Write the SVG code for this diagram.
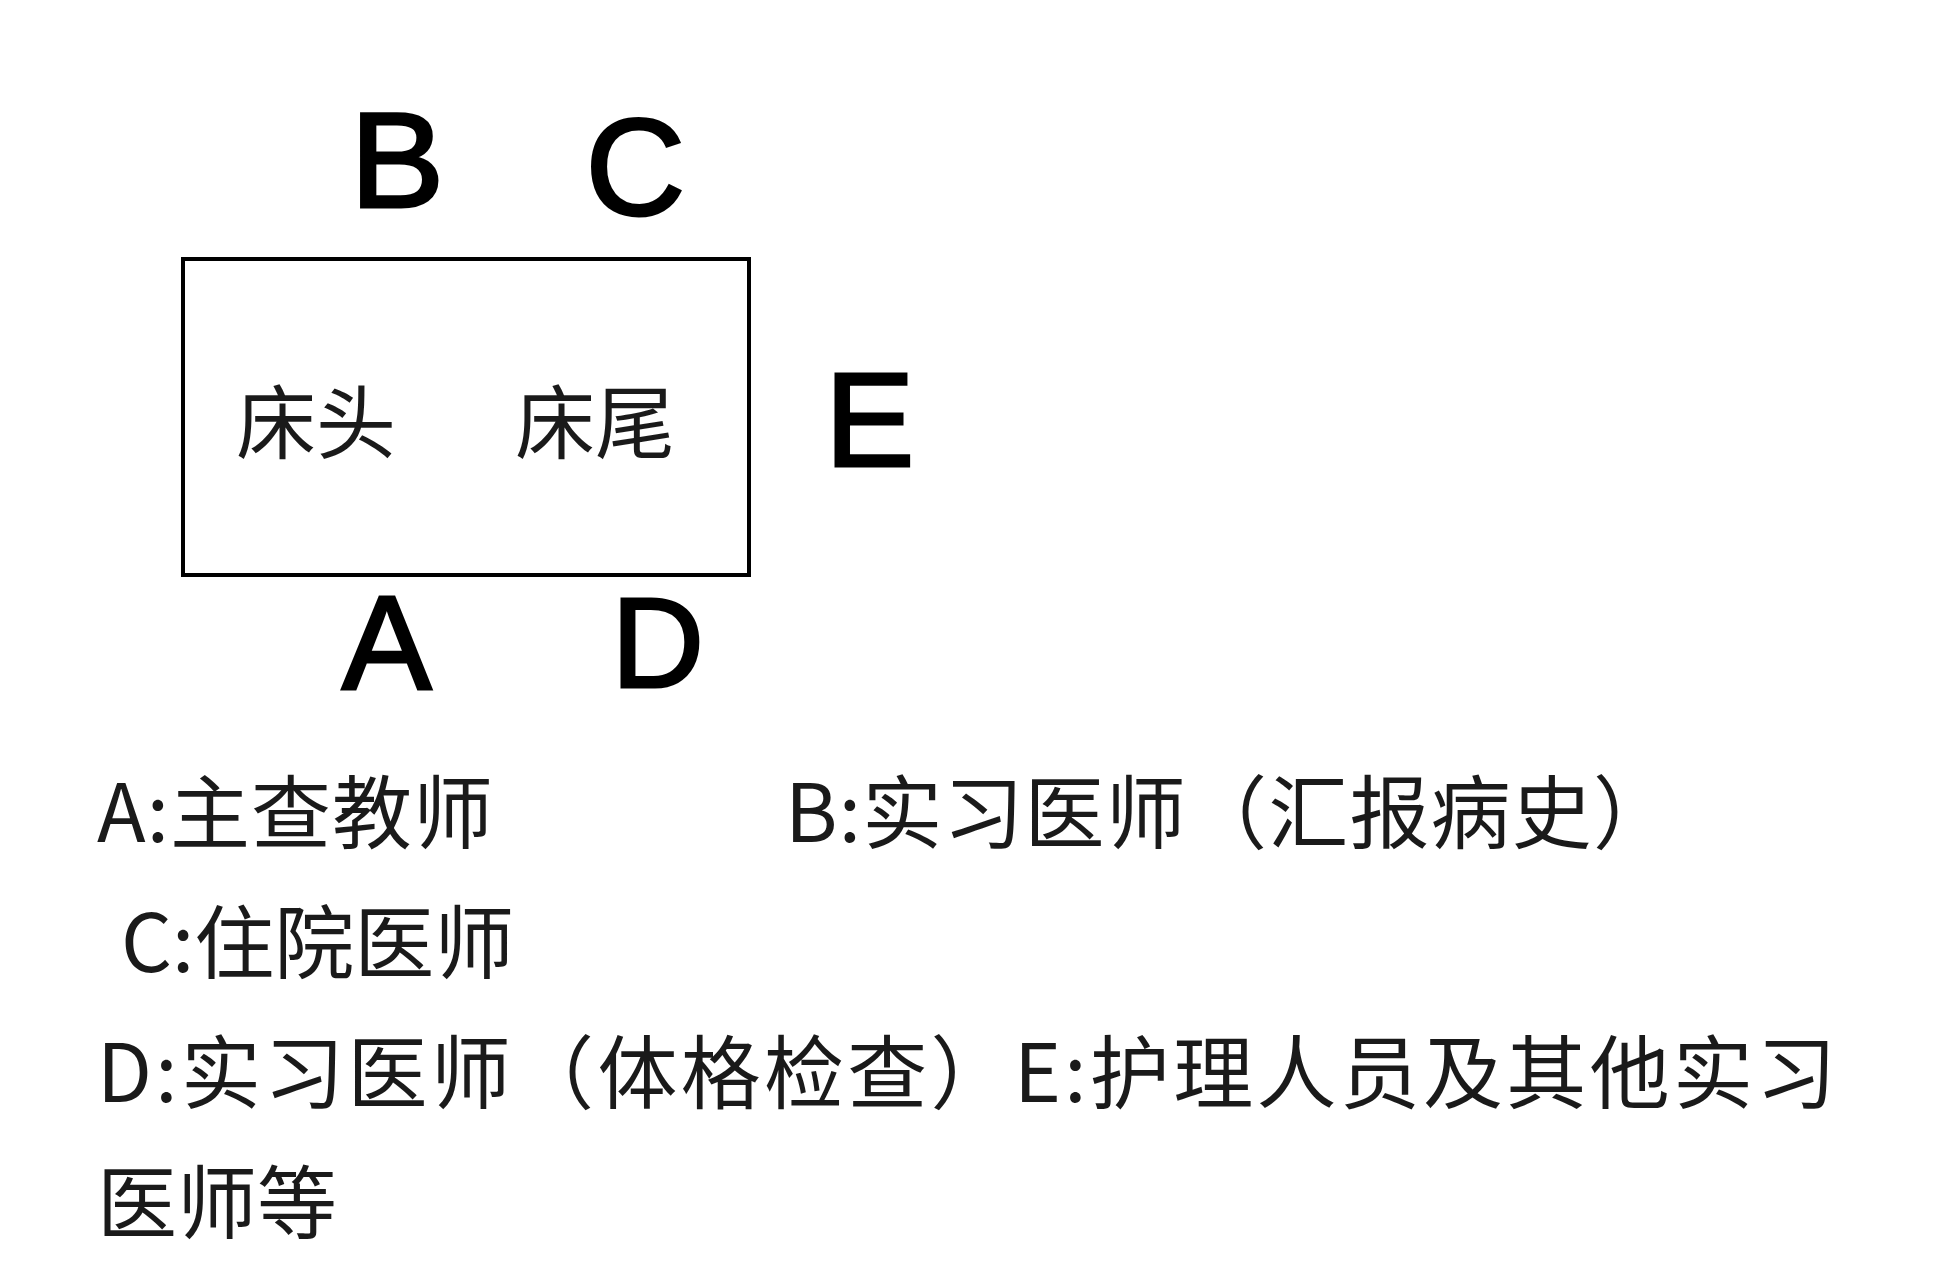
<svg xmlns="http://www.w3.org/2000/svg" width="1933" height="1280" viewBox="0 0 1933 1280">
<style>
.big{font-family:"Liberation Sans",Arial,sans-serif;fill:#000;stroke:#000;stroke-width:3;stroke-linejoin:miter;}
.cjk{font-family:"Noto Sans CJK SC","Noto Sans",sans-serif;font-size:80px;fill:#1a1a1a;}
</style>
<rect width="1933" height="1280" fill="#fff"/>
<g id="bed">
<rect x="183" y="259" width="566" height="316" fill="none" stroke="#000" stroke-width="4"/>
<text class="cjk" x="236" y="452">床头</text>
<text class="cjk" x="515" y="452">床尾</text>
</g>
<g id="pos-B"><text class="big" x="350" y="207.5" font-size="136" transform="translate(350 0) scale(1.04 1) translate(-350 0)">B</text></g>
<g id="pos-C"><text class="big" x="585.5" y="214.5" font-size="138">C</text></g>
<g id="pos-E"><text class="big" x="825" y="465.5" font-size="134">E</text></g>
<g id="pos-A"><text class="big" x="342" y="688.5" font-size="134">A</text></g>
<g id="pos-D"><text class="big" x="611.5" y="686.5" font-size="128">D</text></g>
<g id="legend">
<text class="cjk" x="97" y="842" letter-spacing="1">A:主查教师</text>
<text class="cjk" x="785" y="842" letter-spacing="1.2">B:实习医师（汇报病史）</text>
<text class="cjk" x="121" y="972">C:住院医师</text>
<text class="cjk" x="97" y="1102" letter-spacing="3.3">D:实习医师（体格检查）E:护理人员及其他实习</text>
<text class="cjk" x="97" y="1232">医师等</text>
</g>
</svg>
